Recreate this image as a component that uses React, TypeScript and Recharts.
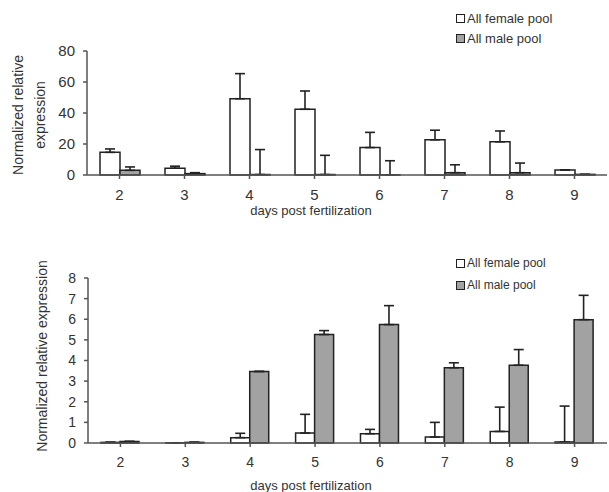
import { Bar, BarChart, ErrorBar, XAxis, YAxis } from "recharts";

const days = ["2", "3", "4", "5", "6", "7", "8", "9"];

// upper panel
const topFemale = [14.6, 4.4, 49.2, 42.4, 17.7, 22.7, 21.4, 3.3];
const topFemaleErr = [2.2, 1.3, 16.2, 11.8, 9.8, 6.2, 7.0, 0];
const topMale = [3.0, 0.9, 0.3, 0.3, 0.1, 1.5, 1.5, 0.4];
const topMaleErr = [2.2, 0.6, 16.1, 12.4, 9.1, 5.1, 6.2, 0];
const topTicks = [0, 20, 40, 60, 80];

// lower panel
const bottomFemale = [0.03, 0.01, 0.26, 0.48, 0.45, 0.29, 0.56, 0.05];
const bottomFemaleErr = [0.01, 0, 0.21, 0.91, 0.21, 0.71, 1.18, 1.74];
const bottomMale = [0.07, 0.03, 3.47, 5.26, 5.74, 3.65, 3.77, 5.98];
const bottomMaleErr = [0.01, 0.01, 0, 0.19, 0.92, 0.24, 0.76, 1.18];
const bottomTicks = [0, 1, 2, 3, 4, 5, 6, 7, 8];

const seriesNames = ["All female pool", "All male pool"];

const FONT = "'Liberation Sans', Arial, sans-serif";
const INK = "#222";
const AXIS = "#555";
const TEXT = "#333";
const MALE_FILL = "#a2a2a2";

function rows(female: number[], femaleErr: number[], male: number[], maleErr: number[]) {
  return days.map((day, i) => ({
    day,
    female: female[i],
    femaleErr: [0, femaleErr[i]],
    male: male[i],
    maleErr: [0, maleErr[i]],
  }));
}

const topData = rows(topFemale, topFemaleErr, topMale, topMaleErr);
const bottomData = rows(bottomFemale, bottomFemaleErr, bottomMale, bottomMaleErr);

function PoolLegend({ top, fontSize, gap }: { top: number; fontSize: number; gap: number }) {
  const fills = ["#fff", MALE_FILL];
  return (
    <div style={{ position: "absolute", left: 456, top, fontFamily: FONT, fontSize, color: TEXT }}>
      {seriesNames.map((name, i) => (
        <div key={name} style={{ display: "flex", alignItems: "center", height: gap }}>
          <span
            style={{
              display: "inline-block",
              width: 7,
              height: 7,
              border: `1.5px solid ${INK}`,
              background: fills[i],
              marginRight: 2,
            }}
          />
          {name}
        </div>
      ))}
    </div>
  );
}

function Panel({
  data,
  height,
  top,
  yWidth,
  xAxisHeight,
  domainMax,
  ticks,
  tickFont,
  titleLines,
  titleX,
  titleY,
  xTitleY,
}: {
  data: ReturnType<typeof rows>;
  height: number;
  top: number;
  yWidth: number;
  xAxisHeight: number;
  domainMax: number;
  ticks: number[];
  tickFont: number;
  titleLines: string[];
  titleX: number[];
  titleY: number;
  xTitleY: number;
}) {
  return (
    <BarChart
      width={609}
      height={height}
      data={data}
      margin={{ top, right: 2, left: 0, bottom: 0 }}
      barCategoryGap="20%"
      barGap={0}
    >
      <XAxis
        dataKey="day"
        height={xAxisHeight}
        stroke={AXIS}
        strokeWidth={1.5}
        tickSize={4}
        tickMargin={10}
        tick={{ fill: TEXT, fontSize: tickFont, fontFamily: FONT }}
        label={{
          content: () => (
            <text x={311} y={xTitleY} textAnchor="middle" dominantBaseline="central"
              fill={TEXT} fontSize={13} fontFamily={FONT}>
              days post fertilization
            </text>
          ),
        }}
      />
      <YAxis
        width={yWidth}
        domain={[0, domainMax]}
        ticks={ticks}
        interval={0}
        stroke={AXIS}
        strokeWidth={1.5}
        tickSize={4}
        tickMargin={8}
        tick={{ fill: TEXT, fontSize: tickFont, fontFamily: FONT }}
        label={{
          content: () => (
            <g>
              {titleLines.map((line, i) => (
                <text key={line} x={titleX[i]} y={titleY} textAnchor="middle"
                  dominantBaseline="central" fill={TEXT} fontSize={14} fontFamily={FONT}
                  transform={`rotate(-90 ${titleX[i]} ${titleY})`}>
                  {line}
                </text>
              ))}
            </g>
          ),
        }}
      />
      <Bar dataKey="female" name={seriesNames[0]} fill="#fff" stroke={INK} strokeWidth={1.5}
        isAnimationActive={false}>
        <ErrorBar dataKey="femaleErr" direction="y" width={5} stroke={INK} strokeWidth={1.6} />
      </Bar>
      <Bar dataKey="male" name={seriesNames[1]} fill={MALE_FILL} stroke={INK} strokeWidth={1.5}
        isAnimationActive={false}>
        <ErrorBar dataKey="maleErr" direction="y" width={5} stroke={INK} strokeWidth={1.6} />
      </Bar>
    </BarChart>
  );
}

export default function App() {
  return (
    <div style={{ position: "fixed", left: 0, top: 0, width: 609, height: 492, background: "#fff", overflow: "hidden" }}>
      <div style={{ position: "absolute", left: 0, top: 0 }}>
        <Panel
          data={topData}
          height={230}
          top={51}
          yWidth={87}
          xAxisHeight={55}
          domainMax={80}
          ticks={topTicks}
          tickFont={15}
          titleLines={["Normalized relative", "expression"]}
          titleX={[18, 40]}
          titleY={115}
          xTitleY={210}
        />
      </div>
      <PoolLegend top={8} fontSize={13} gap={20} />
      <div style={{ position: "absolute", left: 0, top: 230 }}>
        <Panel
          data={bottomData}
          height={262}
          top={48}
          yWidth={88}
          xAxisHeight={49}
          domainMax={8}
          ticks={bottomTicks}
          tickFont={14}
          titleLines={["Normalized relative expression"]}
          titleX={[42]}
          titleY={126}
          xTitleY={255}
        />
      </div>
      <PoolLegend top={252} fontSize={12} gap={22} />
    </div>
  );
}
